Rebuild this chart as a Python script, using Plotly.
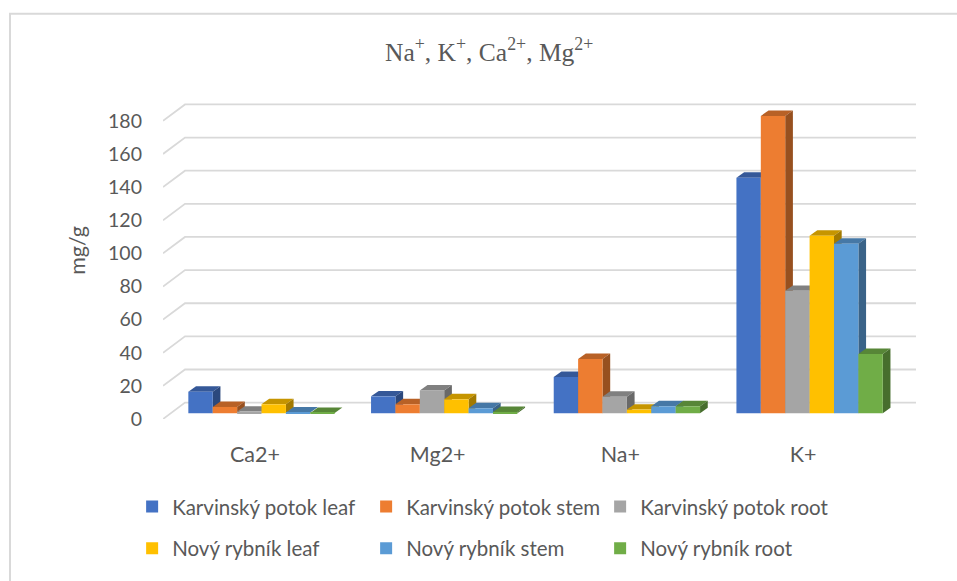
import plotly.graph_objects as go

# ---------------- data ----------------
categories = ["Ca2+", "Mg2+", "Na+", "K+"]
series_names = [
    "Karvinský potok leaf",
    "Karvinský potok stem",
    "Karvinský potok root",
    "Nový rybník leaf",
    "Nový rybník stem",
    "Nový rybník root",
]
kp_leaf = [13.0, 10.2, 21.9, 142.2]
kp_stem = [3.8, 5.4, 32.8, 179.5]
kp_root = [1.0, 13.8, 10.0, 73.9]
nr_leaf = [5.4, 8.4, 2.2, 107.2]
nr_stem = [0.5, 3.0, 4.2, 102.3]
nr_root = [0.2, 0.8, 4.2, 35.8]
series_values = [kp_leaf, kp_stem, kp_root, nr_leaf, nr_stem, nr_root]
y_ticks = [0, 20, 40, 60, 80, 100, 120, 140, 160, 180]

# ---------------- style ----------------
colors = ["#4472C4", "#ED7D31", "#A5A5A5", "#FFC000", "#5B9BD5", "#70AD47"]


def shade(hexc, f):
    h = hexc.lstrip("#")
    r, g, b = (int(h[i:i + 2], 16) for i in (0, 2, 4))
    return "rgb(%d,%d,%d)" % (r * f, g * f, b * f)


TXT = "#595959"
GRID = "#D9D9D9"
FONT = "Lato"
TXT_SIZE = 21.5
LEG_SIZE = 20.5

# pseudo-3D projection constants (axis units)
x_range = [-0.5036, 3.618]
y_range = [0, 192.6]
wall_dx, wall_dy = 0.1204, 9.9     # back wall offset
bar_base = 3.47                    # bar front-face floor offset
bar_dx, bar_dy = 0.0421, 3.3       # bar depth
bar_w = 0.1335
group_shift = 0.0356
n = len(series_values)

fig = go.Figure()

# back-wall gridlines
gx, gy = [], []
for t in y_ticks:
    gx += [x_range[0], x_range[0] + wall_dx, x_range[1], None]
    gy += [t, t + wall_dy, t + wall_dy, None]
fig.add_trace(go.Scatter(x=gx, y=gy, mode="lines", line=dict(color=GRID, width=1.8),
                         hoverinfo="skip", showlegend=False, cliponaxis=False))

# top and side faces (painter's order, left to right)
for k in range(len(categories)):
    for i, vals in enumerate(series_values):
        xc = k + group_shift + (i - (n - 1) / 2) * bar_w
        xl, xr = xc - bar_w / 2, xc + bar_w / 2
        B = bar_base
        H = bar_base + vals[k]
        fig.add_trace(go.Scatter(
            x=[xl, xr, xr + bar_dx, xl + bar_dx, xl],
            y=[H, H, H + bar_dy, H + bar_dy, H],
            mode="lines", fill="toself", fillcolor=shade(colors[i], 0.78),
            line=dict(width=0, color=shade(colors[i], 0.78)),
            hoverinfo="skip", showlegend=False))
        fig.add_trace(go.Scatter(
            x=[xr, xr + bar_dx, xr + bar_dx, xr, xr],
            y=[B, B + bar_dy, H + bar_dy, H, B],
            mode="lines", fill="toself", fillcolor=shade(colors[i], 0.64),
            line=dict(width=0, color=shade(colors[i], 0.64)),
            hoverinfo="skip", showlegend=False))

# front faces (on overlaying axes so they sit above the caps)
for i, (name, vals) in enumerate(zip(series_names, series_values)):
    xs = [k + group_shift + (i - (n - 1) / 2) * bar_w for k in range(len(categories))]
    fig.add_trace(go.Bar(
        x=xs, y=vals, base=[bar_base] * len(vals), width=bar_w, name=name,
        marker=dict(color=colors[i], line=dict(width=0)),
        xaxis="x2", yaxis="y2",
        legend="legend" if i < 3 else "legend2"))

leg_common = dict(orientation="h", x=-0.041, xanchor="left", yanchor="middle",
                  entrywidth=189, entrywidthmode="pixels", bgcolor="rgba(0,0,0,0)",
                  font=dict(size=LEG_SIZE, color=TXT, family=FONT), traceorder="normal")

fig.update_layout(
    width=957, height=581,
    margin=dict(l=163, r=41, t=100, b=159.5),
    paper_bgcolor="white", plot_bgcolor="rgba(0,0,0,0)",
    font=dict(family=FONT, color=TXT, size=TXT_SIZE),
    barmode="overlay",
    xaxis=dict(range=x_range, tickmode="array", tickvals=list(range(len(categories))),
               ticktext=categories, showgrid=False, zeroline=False, showline=False,
               ticks="outside", ticklen=16, tickcolor="rgba(0,0,0,0)",
               tickfont=dict(size=TXT_SIZE, color=TXT, family=FONT), fixedrange=True),
    yaxis=dict(range=y_range, tickmode="array", tickvals=y_ticks, showgrid=False,
               zeroline=False, showline=False, ticks="", ticklabelstandoff=20,
               tickfont=dict(size=19.5, color=TXT, family=FONT), fixedrange=True),
    xaxis2=dict(range=x_range, overlaying="x", visible=False, fixedrange=True),
    yaxis2=dict(range=y_range, overlaying="y", visible=False, fixedrange=True),
    legend=dict(y=-0.275, **leg_common),
    legend2=dict(y=-0.406, **leg_common),
    showlegend=True,
    annotations=[
        dict(text="Na<sup>+</sup>, K<sup>+</sup>, Ca<sup>2+</sup>, Mg<sup>2+</sup>",
             xref="paper", yref="paper", x=(489 - 163) / 753, y=(421.5 - 50) / 321.5,
             xanchor="center", yanchor="middle", showarrow=False,
             font=dict(family="Liberation Serif", size=25.5, color=TXT)),
        dict(text="mg/g", xref="paper", yref="paper", x=(77 - 163) / 753,
             y=(421.5 - 252) / 321.5, xanchor="center", yanchor="middle",
             textangle=-90, showarrow=False, font=dict(family=FONT, size=TXT_SIZE, color=TXT)),
    ],
    shapes=[dict(type="rect", xref="paper", yref="paper",
                 x0=(10 - 163) / 753, x1=1.2, y0=-0.6, y1=(421.5 - 13) / 321.5,
                 line=dict(color=GRID, width=2), fillcolor="rgba(0,0,0,0)", layer="below")],
)

fig.write_html("out.html")
